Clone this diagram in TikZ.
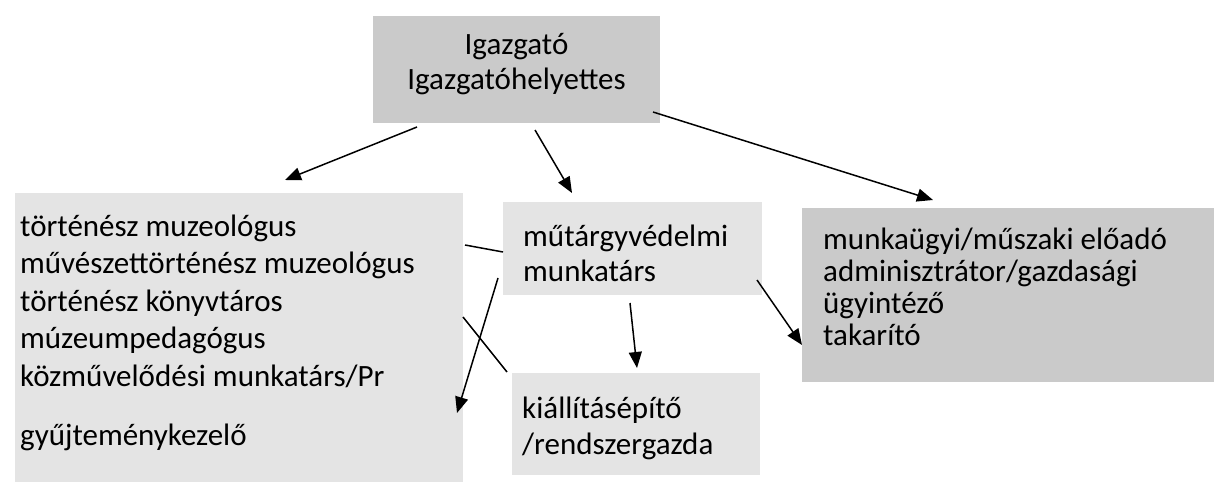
\documentclass[tikz,border=0pt]{standalone}
\usepackage{fontspec}
\setmainfont{Carlito}
\usetikzlibrary{arrows.meta}
\definecolor{boxdark}{HTML}{CACACA}
\definecolor{boxlight}{HTML}{E4E4E4}
\begin{document}
\begin{tikzpicture}[x=1pt,y=-1pt,
  box/.style={draw=none,inner sep=0pt,anchor=north west,rectangle},
  darkbox/.style={box,fill=boxdark},
  lightbox/.style={box,fill=boxlight},
  txt/.style={inner sep=0pt,anchor=north west,align=left,font=\fontsize{31}{37.5}\selectfont},
  conn/.style={line width=1.5pt},
  arr/.style={conn,-{Triangle[length=16pt,width=13pt]}}]
\useasboundingbox (0,0) rectangle (1218,486);
% boxes
\node[darkbox,minimum width=287,minimum height=107] (top) at (373,16) {};
\node[lightbox,minimum width=448,minimum height=289] (left) at (15,193) {};
\node[lightbox,minimum width=259,minimum height=93] (mid) at (503,202) {};
\node[lightbox,minimum width=248,minimum height=102] (bot) at (512,373) {};
\node[darkbox,minimum width=412,minimum height=174] (right) at (802,208) {};
% texts
\node[txt,anchor=north,align=center,font=\fontsize{31}{35}\selectfont] (ttop) at (516.5,33) {Igazgató\\Igazgatóhelyettes};
\node[txt] (tleft) at (20,214.5) {történész muzeológus\\művészettörténész muzeológus\\történész könyvtáros\\múzeumpedagógus\\közművelődési munkatárs/Pr\\[21.5pt]gyűjteménykezelő};
\node[txt,font=\fontsize{31}{35}\selectfont] (tmid) at (523,224.5) {műtárgyvédelmi\\munkatárs};
\node[txt,font=\fontsize{31}{36}\selectfont] (tbot) at (522,396.5) {kiállításépítő\\/rendszergazda};
\node[txt,font=\fontsize{31}{32}\selectfont] (tright) at (823,227.5) {munkaügyi/műszaki előadó\\adminisztrátor/gazdasági\\ügyintéző\\takarító};
% connector end points
\coordinate (a1s) at (417,127); \coordinate (a1e) at (285,180);
\coordinate (a2s) at (535,130); \coordinate (a2e) at (572,193);
\coordinate (a3s) at (653,112); \coordinate (a3e) at (933,200);
\coordinate (l4s) at (465,245); \coordinate (l4e) at (503,252);
\coordinate (a5s) at (498,278); \coordinate (a5e) at (457,413);
\coordinate (l6s) at (463,317); \coordinate (l6e) at (507,372);
\coordinate (a7s) at (630,303); \coordinate (a7e) at (637,368);
\coordinate (a8s) at (757,280); \coordinate (a8e) at (802,345);
\draw[arr] (a1s) -- (a1e);
\draw[arr] (a2s) -- (a2e);
\draw[arr] (a3s) -- (a3e);
\draw[conn] (l4s) -- (l4e);
\draw[arr] (a5s) -- (a5e);
\draw[conn] (l6s) -- (l6e);
\draw[arr] (a7s) -- (a7e);
\draw[arr] (a8s) -- (a8e);
\end{tikzpicture}
\end{document}
